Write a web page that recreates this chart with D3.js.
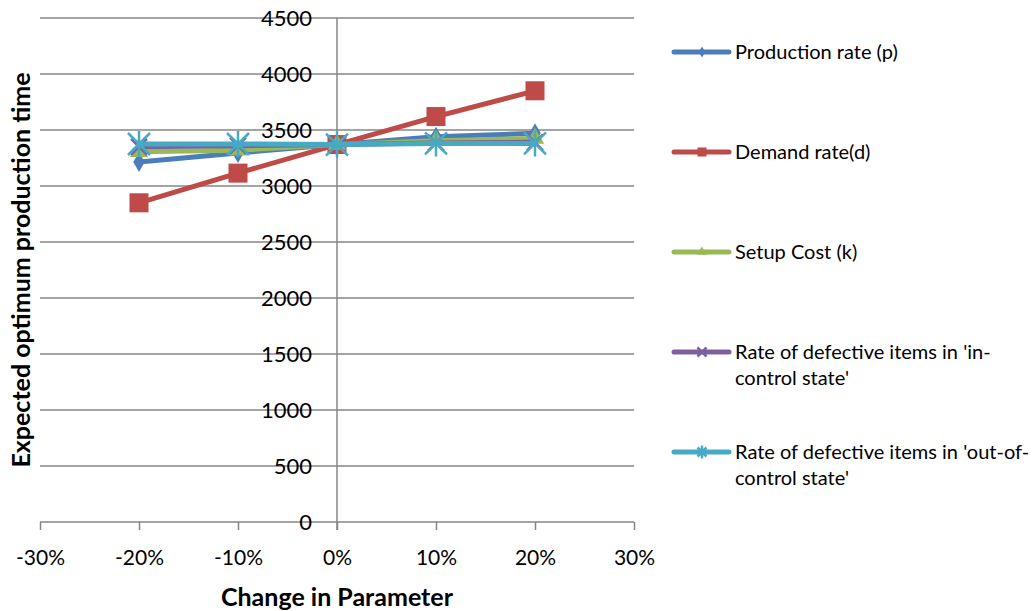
<!DOCTYPE html>
<html>
<head>
<meta charset="utf-8">
<script src="https://cdn.jsdelivr.net/npm/d3@7"></script>
<style>
  html, body { margin: 0; padding: 0; background: #fff; }
  svg { display: block; font-family: Lato, "Open Sans", sans-serif; }
</style>
</head>
<body>
<svg id="chart" width="1036" height="611"></svg>
<script>
// Sensitivity of expected optimum production time to a change in each parameter
const changes = [-0.2, -0.1, 0, 0.1, 0.2];
const xTicks = [-0.3, -0.2, -0.1, 0, 0.1, 0.2, 0.3];
const yTicks = [0, 500, 1000, 1500, 2000, 2500, 3000, 3500, 4000, 4500];

const productionRate = [3215, 3295, 3370, 3440, 3470];
const demandRate     = [2850, 3115, 3370, 3620, 3850];
const setupCost      = [3305, 3320, 3370, 3405, 3425];
const defectInCtrl   = [3350, 3360, 3370, 3385, 3390];
const defectOutCtrl  = [3375, 3375, 3370, 3380, 3380];

const seriesNames = [
  ["Production rate (p)"],
  ["Demand rate(d)"],
  ["Setup Cost (k)"],
  ["Rate of defective items in 'in-", "control state'"],
  ["Rate of defective items in 'out-of-", "control state'"]
];
const seriesColors = ["#4A7EBB", "#BE4B48", "#98B954", "#7D60A0", "#46AAC5"];
const seriesMarkers = ["diamond", "square", "triangle", "x", "star"];
const seriesValues = [productionRate, demandRate, setupCost, defectInCtrl, defectOutCtrl];

const svg = d3.select("#chart");
const x = d3.scaleLinear().domain([-0.3, 0.3]).range([40, 634]);
const y = d3.scaleLinear().domain([0, 4500]).range([522, 18]);
const grid = "#868686";

// horizontal gridlines
svg.append("g").selectAll("line").data(yTicks.slice(1)).join("line")
  .attr("x1", x(-0.3)).attr("x2", x(0.3))
  .attr("y1", d => y(d)).attr("y2", d => y(d))
  .attr("stroke", grid).attr("stroke-width", 1.5);

// x axis along the zero line
const pct = d3.format(".0%");
const xAxis = svg.append("g").attr("transform", `translate(0,${y(0)})`)
  .call(d3.axisBottom(x).tickValues(xTicks).tickSize(8).tickPadding(20)
    .tickFormat(d => pct(d).replace("\u2212", "-")));
xAxis.select(".domain").attr("stroke", grid).attr("stroke-width", 1.5)
  .attr("d", `M${x(-0.3)},0H${x(0.3)}`);
xAxis.selectAll(".tick line").attr("stroke", grid).attr("stroke-width", 1.5);
xAxis.selectAll(".tick text").attr("fill", "#000").style("font-size", "21px")
  .style("font-family", "Lato, sans-serif");

// y axis crossing at 0%
const yAxis = svg.append("g").attr("transform", `translate(${x(0)},0)`)
  .call(d3.axisLeft(y).tickValues(yTicks).tickSize(0).tickPadding(25)
    .tickFormat(d3.format("d")));
yAxis.select(".domain").attr("stroke", grid).attr("stroke-width", 1.5)
  .attr("d", `M0,${y(4500)}V${y(0) + 8}`);
yAxis.selectAll(".tick text").attr("fill", "#000").style("font-size", "22px")
  .style("font-family", "Lato, sans-serif");

// axis titles
svg.append("text").attr("x", x(0)).attr("y", 606).attr("text-anchor", "middle")
  .style("font-size", "25px").style("font-weight", "bold")
  .text("Change in Parameter");
svg.append("text").attr("transform", `translate(30,${(y(4500)+y(0))/2}) rotate(-90)`)
  .attr("text-anchor", "middle").style("font-size", "25px").style("font-weight", "bold")
  .text("Expected optimum production  time");

function drawMarker(g, type, color, size) {
  if (type === "diamond") {
    g.append("path").attr("d", d3.symbol(d3.symbolDiamond, size * size * 0.45)())
      .attr("fill", color);
  } else if (type === "square") {
    g.append("rect").attr("x", -size / 2).attr("y", -size / 2)
      .attr("width", size).attr("height", size).attr("fill", color);
  } else if (type === "triangle") {
    g.append("path").attr("d", d3.symbol(d3.symbolTriangle, size * size * 0.5)())
      .attr("fill", color);
  } else if (type === "x") {
    const h = size / 2;
    g.append("path").attr("d", `M${-h},${-h}L${h},${h}M${-h},${h}L${h},${-h}`)
      .attr("stroke", color).attr("stroke-width", 2.5);
  } else if (type === "star") {
    const h = size / 2;
    g.append("path").attr("d", `M${-h},${-h}L${h},${h}M${-h},${h}L${h},${-h}M0,${-h - 2}V${h + 2}`)
      .attr("stroke", color).attr("stroke-width", 2.5);
  }
}

const markerSizes = [16, 19, 17, 16, 22];
const line = d3.line().x(d => x(d[0])).y(d => y(d[1]));

seriesValues.forEach((vals, i) => {
  const pts = changes.map((c, j) => [c, vals[j]]);
  const g = svg.append("g");
  g.append("path").datum(pts).attr("d", line).attr("fill", "none")
    .attr("stroke", seriesColors[i]).attr("stroke-width", 5)
    .attr("stroke-linejoin", "round").attr("stroke-linecap", "round");
  pts.forEach(p => {
    drawMarker(g.append("g").attr("transform", `translate(${x(p[0])},${y(p[1])})`),
      seriesMarkers[i], seriesColors[i], markerSizes[i]);
  });
});

// legend
const legend = svg.append("g");
seriesNames.forEach((lines, i) => {
  const ly = 52 + i * 100;
  const g = legend.append("g").attr("transform", `translate(0,${ly})`);
  g.append("line").attr("x1", 674).attr("x2", 729).attr("y1", 0).attr("y2", 0)
    .attr("stroke", seriesColors[i]).attr("stroke-width", 5).attr("stroke-linecap", "round");
  drawMarker(g.append("g").attr("transform", "translate(702,0)"), seriesMarkers[i], seriesColors[i], 9);
  lines.forEach((t, k) => {
    g.append("text").attr("x", 735).attr("y", k * 26).attr("dy", "0.35em")
      .style("font-size", "20px").attr("fill", "#000").text(t);
  });
});
</script>
</body>
</html>
